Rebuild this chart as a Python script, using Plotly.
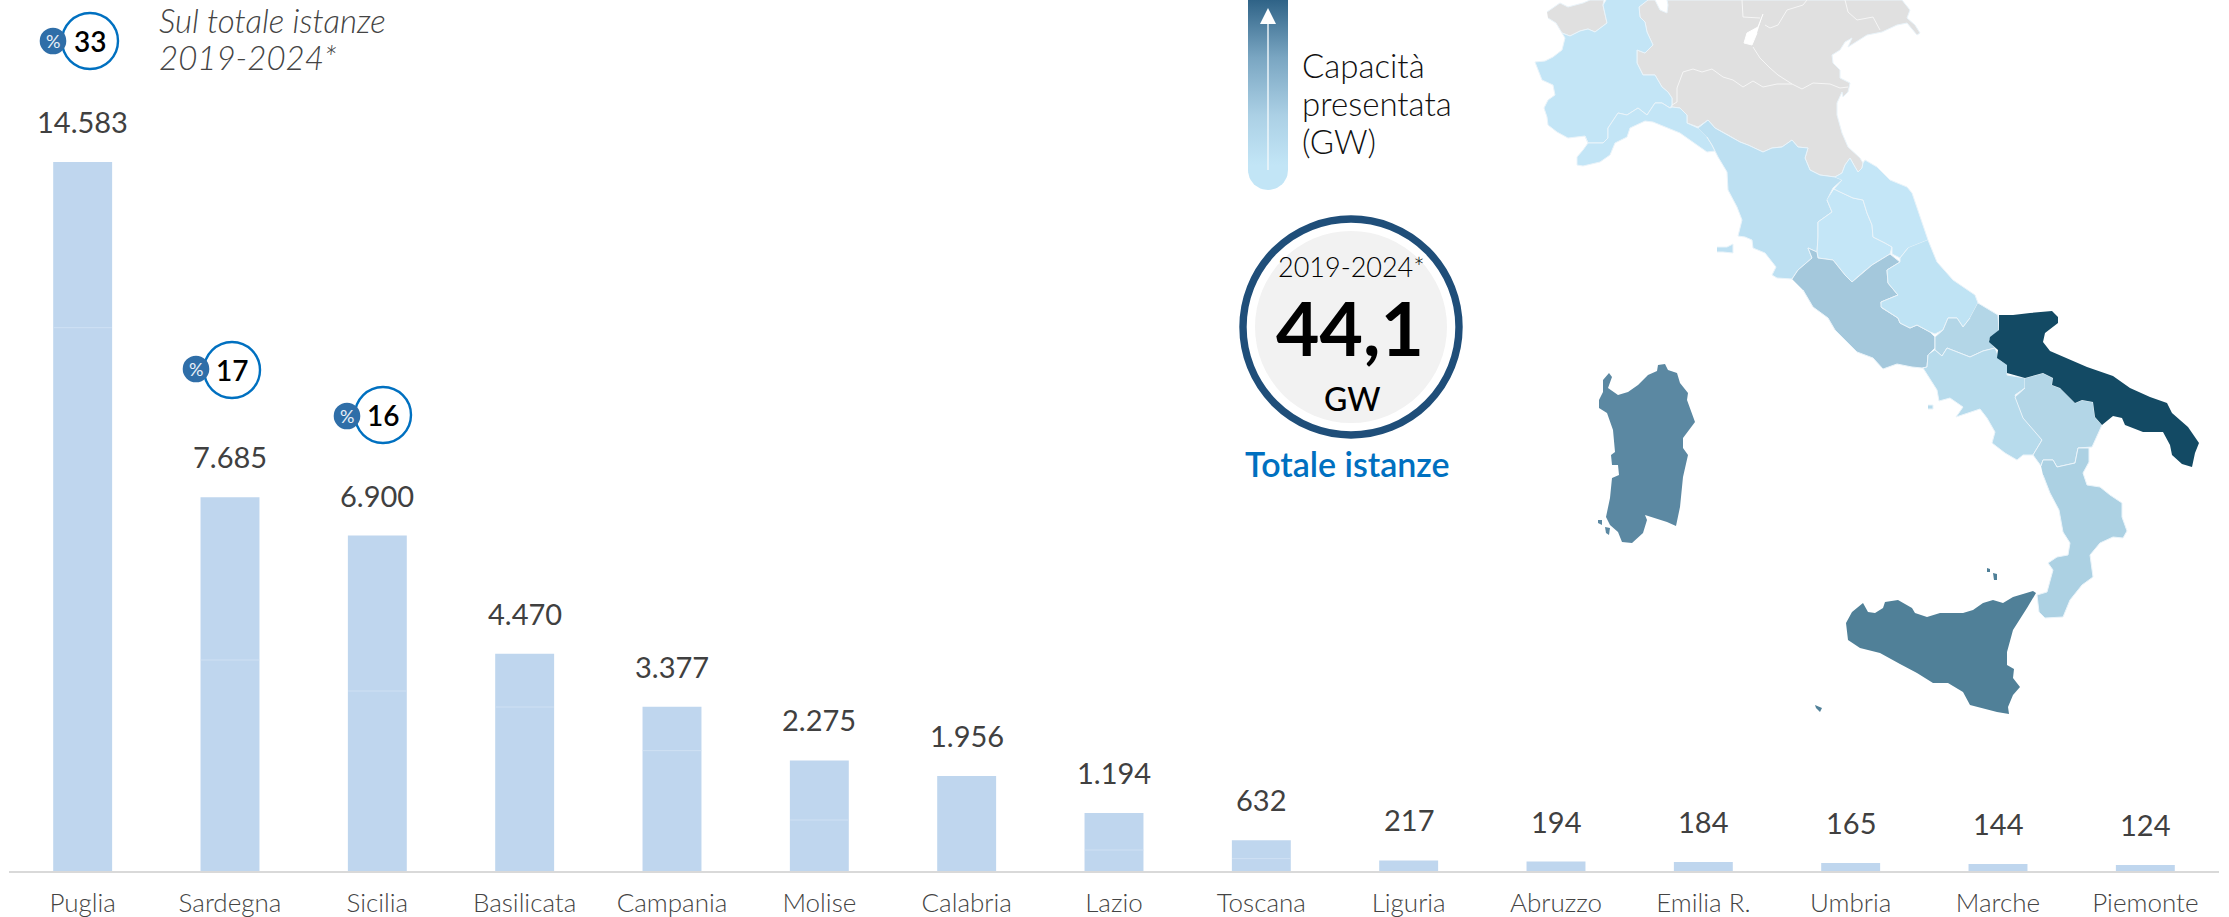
import math
import plotly.graph_objects as go

FONT = "Lato"
W, H = 2229, 917

# ---------- bar chart data ----------
regions = ["Puglia", "Sardegna", "Sicilia", "Basilicata", "Campania", "Molise", "Calabria", "Lazio",
           "Toscana", "Liguria", "Abruzzo", "Emilia R.", "Umbria", "Marche", "Piemonte"]
capacity_mw = [14583, 7685, 6900, 4470, 3377, 2275, 1956, 1194, 632, 217, 194, 184, 165, 144, 124]
seam_regions = ["Puglia", "Sardegna", "Sicilia", "Basilicata", "Campania", "Molise", "Lazio", "Toscana"]
seam_values = [11175, 4340, 3702, 3373, 2476, 1049, 432, 255]

share_labels = ["33", "17", "16"]
share_circle_x = [90, 232, 383]
share_circle_y = [41, 370, 415]
share_disc_x = [53, 196, 347]
share_disc_y = [41, 369, 416]

# ---------- map outlines (in map units) ----------
piemonte_x = [1606,1603,1607,1595,1588,1580,1570,1562,1565,1562,1553,1545,1535,1538,1542,1553,1555,1548,1544,1547,1548,1557,1568,1585,1588,1603,1608,1608,1618,1627,1638,1647,1655,1662,1670,1672,1672,1668,1662,1655,1643,1637,1637,1645,1653,1647,1645,1640,1639,1648]
piemonte_y = [0,5,23,32,29,31,36,33,38,50,57,61,62,70,80,85,95,100,108,117,125,132,138,136,143,143,138,128,113,115,108,115,103,103,108,105,98,92,87,75,75,63,50,53,45,32,22,17,7,0]
aosta_x = [1547,1560,1568,1583,1590,1604,1603,1607,1595,1588,1580,1570,1562,1556,1548]
aosta_y = [12,3,7,3,0,0,5,23,32,29,31,36,33,23,18]
liguria_x = [1585,1588,1583,1577,1577,1583,1600,1610,1615,1627,1630,1645,1653,1668,1680,1697,1707,1715,1712,1707,1698,1687,1687,1680,1672,1670,1662,1655,1647,1638,1627,1618,1608,1608,1603,1588]
liguria_y = [136,143,150,157,165,166,162,155,143,137,128,121,122,128,133,145,152,151,145,137,128,123,115,108,107,108,103,103,115,108,115,113,128,138,143,143]
north_x = [1648,1655,1660,1667,1668,1667,1902,1910,1907,1915,1920,1917,1907,1897,1882,1867,1848,1852,1845,1840,1832,1833,1840,1840,1850,1848,1843,1842,1837,1837,1842,1848,1860,1863,1862,1858,1855,1850,1845,1842,1835,1820,1810,1805,1808,1798,1792,1782,1772,1763,1748,1740,1728,1715,1708,1698,1687,1687,1680,1672,1672,1668,1662,1655,1643,1637,1637,1645,1653,1647,1645,1640,1639]
north_y = [0,0,10,13,5,0,0,10,18,25,33,35,23,25,32,35,47,38,42,50,55,63,70,78,83,92,97,92,103,115,133,147,158,163,168,172,167,158,165,173,177,175,170,158,148,147,140,147,148,152,145,142,135,128,120,127,123,115,108,107,98,92,87,75,75,63,50,53,45,32,22,17,7]
emilia_line_x = [1672,1677,1677,1683,1693,1702,1712,1723,1733,1743,1753,1763,1777,1792,1802,1813,1830,1840,1848]
emilia_line_y = [105,102,88,72,69,72,69,77,80,87,81,87,84,84,89,83,84,88,87]
veneto_line_x = [1753,1760,1770,1778,1792]
veneto_line_y = [47,58,68,75,84]
trentino_line_x = [1742,1743,1760,None,1765,1770,1778,1787,1803,1807]
trentino_line_y = [0,17,18,None,25,28,25,10,5,0]
friuli_line_x = [1845,1848,1857,1873,1880]
friuli_line_y = [0,12,20,17,30]
garda_x = [1763,1758,1747,1744,1752,1757]
garda_y = [14,27,33,43,45,33]
toscana_x = [1698,1708,1715,1728,1740,1748,1763,1772,1782,1792,1798,1808,1805,1810,1820,1835,1842,1833,1827,1832,1818,1818,1817,1808,1812,1798,1792,1777,1772,1776,1765,1753,1752,1745,1738,1742,1737,1728,1727,1718,1715,1712,1707]
toscana_y = [128,120,128,135,142,145,152,148,147,140,147,148,158,170,175,177,180,188,200,212,222,237,252,248,258,270,279,278,275,267,253,248,240,237,236,220,207,190,172,157,151,145,137]
elba_x = [1717,1727,1733,1733,1723,1717]
elba_y = [247,247,244,253,252,252]
umbria_x = [1834,1840,1853,1863,1867,1872,1873,1885,1892,1890,1872,1862,1852,1845,1833,1818,1817,1818,1818,1832,1827]
umbria_y = [189,192,198,200,213,225,237,243,247,254,265,273,282,275,260,258,252,237,222,212,200]
marche_x = [1835,1842,1845,1850,1855,1858,1862,1863,1865,1877,1890,1907,1912,1920,1928,1908,1900,1892,1892,1885,1873,1872,1867,1863,1853,1840,1834,1842]
marche_y = [177,173,165,158,167,172,168,163,160,167,180,187,193,217,240,248,258,254,247,243,237,225,213,200,198,192,189,180]
lazio_x = [1792,1798,1812,1808,1817,1818,1833,1845,1852,1862,1872,1890,1900,1887,1888,1898,1881,1882,1898,1900,1910,1917,1930,1935,1935,1928,1927,1922,1912,1897,1883,1873,1857,1835,1828,1813,1803]
lazio_y = [279,270,258,248,252,258,260,275,282,273,265,254,262,270,283,295,302,308,318,323,328,325,332,337,348,355,367,368,367,364,369,358,352,330,318,307,290]
abruzzo_x = [1928,1937,1953,1975,1978,1970,1963,1957,1948,1943,1935,1930,1917,1910,1900,1898,1881,1881,1898,1888,1887,1900,1900,1908]
abruzzo_y = [240,262,280,295,303,318,327,318,318,330,334,332,325,328,323,318,307,302,295,283,270,262,258,248]
molise_x = [1978,1998,1999,1989,1995,1983,1970,1947,1942,1935,1935,1943,1948,1957,1963,1970]
molise_y = [303,315,330,340,348,351,357,348,356,350,337,330,318,318,327,318]
campania_x = [1935,1942,1947,1970,1983,1995,2000,2008,2007,2025,2025,2015,2022,2040,2042,2033,2023,2017,2005,1992,1995,1987,1980,1968,1956,1963,1950,1939,1937,1923,1927,1928]
campania_y = [350,356,348,357,351,348,360,365,375,378,388,395,413,438,440,455,455,460,453,443,432,418,409,413,417,407,398,401,390,368,367,355]
ischia_x = [1928,1933,1933,1928]
ischia_y = [405,405,409,409]
puglia_x = [1999,2013,2030,2052,2058,2058,2045,2043,2050,2067,2087,2113,2130,2150,2167,2172,2188,2199,2195,2192,2182,2172,2170,2163,2143,2125,2122,2113,2102,2095,2093,2082,2075,2060,2052,2053,2043,2025,2007,2007,1997,1998,1989,1990,1999]
puglia_y = [315,315,313,311,317,323,333,342,351,358,367,376,388,397,403,413,427,443,453,467,464,455,445,432,432,425,418,416,425,417,402,400,403,388,385,378,373,378,373,365,358,350,342,337,330]
basilicata_x = [2025,2043,2053,2052,2060,2075,2082,2093,2095,2102,2092,2078,2075,2057,2053,2043,2041,2033,2042,2023,2015,2025]
basilicata_y = [378,373,378,385,388,403,400,402,417,425,447,448,463,467,460,460,466,455,440,418,397,388]
calabria_x = [2041,2043,2053,2057,2075,2078,2089,2089,2083,2087,2100,2110,2122,2122,2127,2123,2113,2100,2090,2093,2082,2070,2063,2045,2039,2037,2047,2053,2048,2057,2068,2070,2063,2059,2050,2043]
calabria_y = [466,460,460,467,463,448,448,462,473,485,487,495,503,517,531,538,537,543,555,577,585,600,617,618,612,595,592,570,563,557,555,543,532,510,493,475]
sardegna_x = [1658,1665,1668,1677,1680,1688,1687,1692,1695,1683,1683,1688,1683,1680,1676,1667,1655,1645,1647,1643,1632,1622,1618,1610,1606,1610,1612,1619,1618,1612,1611,1615,1613,1607,1599,1599,1603,1603,1609,1612,1608,1618,1628,1638,1648,1657]
sardegna_y = [365,364,370,373,383,393,400,415,422,438,448,455,477,507,526,522,518,515,520,533,543,542,532,525,517,498,478,475,465,465,455,452,430,413,408,400,392,380,373,377,388,395,392,385,375,371]
sant_antioco_x = [1605,1610,1609,1606]
sant_antioco_y = [527,528,535,533]
san_pietro_x = [1598,1602,1602,1598]
san_pietro_y = [520,520,525,523]
sicilia_x = [2033,2036,2027,2013,2007,2007,2014,2013,2020,2013,2008,2009,1997,1980,1970,1963,1948,1933,1917,1900,1880,1860,1848,1846,1852,1863,1868,1875,1883,1885,1898,1912,1915,1927,1940,1963,1973,1983,1993,2003,2013]
sicilia_y = [591,593,608,630,652,665,669,678,687,695,707,714,712,708,705,692,683,683,673,664,653,648,640,623,612,603,612,613,608,602,600,608,613,617,613,613,610,603,600,603,597]
pantelleria_x = [1815,1822,1820,1816]
pantelleria_y = [705,708,712,708]
lipari_x = [1993,1997,1997,1994]
lipari_y = [573,574,580,580]
salina_x = [1987,1990,1990,1987]
salina_y = [568,569,572,572]

map_fills = [
    (aosta_x, aosta_y, "#e0e0e0"), (north_x, north_y, "#e0e0e0"),
    (piemonte_x, piemonte_y, "#c3e5f6"), (liguria_x, liguria_y, "#c3e5f6"),
    (toscana_x, toscana_y, "#bde0f2"), (elba_x, elba_y, "#bde0f2"),
    (umbria_x, umbria_y, "#c4e6f7"), (marche_x, marche_y, "#c4e6f7"),
    (lazio_x, lazio_y, "#a4c8dc"), (abruzzo_x, abruzzo_y, "#bfe3f4"),
    (molise_x, molise_y, "#b3d6e7"), (campania_x, campania_y, "#b7dbec"),
    (ischia_x, ischia_y, "#b7dbec"), (basilicata_x, basilicata_y, "#b3d6e7"),
    (calabria_x, calabria_y, "#acd1e3"), (puglia_x, puglia_y, "#134a64"),
    (sardegna_x, sardegna_y, "#5b88a2"), (sant_antioco_x, sant_antioco_y, "#5b88a2"),
    (san_pietro_x, san_pietro_y, "#5b88a2"), (sicilia_x, sicilia_y, "#508098"),
    (pantelleria_x, pantelleria_y, "#508098"), (lipari_x, lipari_y, "#508098"),
    (salina_x, salina_y, "#508098"),
]
map_lines = [(emilia_line_x, emilia_line_y), (veneto_line_x, veneto_line_y),
             (trentino_line_x, trentino_line_y), (friuli_line_x, friuli_line_y)]

fig = go.Figure()

# bars
fig.add_trace(go.Bar(x=regions, y=capacity_mw, width=0.4, marker=dict(color="#bfd6ee", line_width=0),
                     showlegend=False, hoverinfo="x+y"))
fig.add_trace(go.Scatter(x=seam_regions, y=seam_values, mode="markers", showlegend=False, hoverinfo="skip",
                         marker=dict(symbol="line-ew", size=41.7, line=dict(color="#cfe0f3", width=1))))

# map
for xs, ys, col in map_fills:
    edge = "rgba(255,255,255,0)" if col in ("#134a64", "#5b88a2", "#508098") else "#eaf4fa"
    fig.add_trace(go.Scatter(x=xs, y=ys, xaxis="x2", yaxis="y2", mode="lines", fill="toself", fillcolor=col,
                             line=dict(color=edge, width=1), showlegend=False, hoverinfo="skip"))
for xs, ys in map_lines:
    fig.add_trace(go.Scatter(x=xs, y=ys, xaxis="x2", yaxis="y2", mode="lines",
                             line=dict(color="#f6f6f6", width=1), showlegend=False, hoverinfo="skip"))
fig.add_trace(go.Scatter(x=garda_x, y=garda_y, xaxis="x2", yaxis="y2", mode="lines", fill="toself", fillcolor="white",
                         line=dict(color="white", width=1), showlegend=False, hoverinfo="skip"))

# legend ramp with rounded bottom
ramp_left, ramp_right, ramp_end = 1248, 1288, 190
ramp_r = (ramp_right - ramp_left) / 2
ramp_x = [ramp_left, ramp_right] + [ramp_left + ramp_r + ramp_r * math.cos(math.pi * i / 24) for i in range(25)]
ramp_y = [0, 0] + [ramp_end - ramp_r + ramp_r * math.sin(math.pi * i / 24) for i in range(25)]
fig.add_trace(go.Scatter(x=ramp_x, y=ramp_y, xaxis="x2", yaxis="y2", mode="lines", line=dict(width=0),
                         fill="toself", showlegend=False, hoverinfo="skip",
                         fillgradient=dict(type="vertical", start=0, stop=165,
                                           colorscale=[[0, "#2f6387"], [0.35, "#7aa6c2"], [0.7, "#abd0e5"], [1, "#c2e5f6"]])))
fig.add_trace(go.Scatter(x=[1268, 1268], y=[170, 22], xaxis="x2", yaxis="y2", mode="lines",
                         line=dict(color="#f2f8fb", width=1.4), showlegend=False, hoverinfo="skip"))
fig.add_trace(go.Scatter(x=[1260, 1268, 1276, 1260], y=[24, 8, 24, 24], xaxis="x2", yaxis="y2", mode="lines",
                         fill="toself", fillcolor="white", line=dict(width=0), showlegend=False, hoverinfo="skip"))

shapes = []
def circle(cx, cy, r, fill, line_color=None, line_w=0):
    shapes.append(dict(type="circle", xref="x2", yref="y2", x0=cx - r, x1=cx + r, y0=cy - r, y1=cy + r,
                       fillcolor=fill, line=dict(color=line_color or fill, width=line_w), layer="above"))

anns = []
def text(x, y, s, size, color="#000", weight=400, style="normal", xanchor="center"):
    anns.append(dict(x=x, y=y, xref="x2", yref="y2", text=s, showarrow=False, xanchor=xanchor, yanchor="middle",
                     font=dict(family=FONT, size=size, color=color, weight=weight, style=style)))

# share badges
for lab, cx, cy, dx, dy in zip(share_labels, share_circle_x, share_circle_y, share_disc_x, share_disc_y):
    circle(cx, cy, 28, "white", "#0070c0", 2.4)
    circle(dx, dy, 13.3, "#2f6ea8")
    text(cx, cy, lab, 28, "#000", 600)
    text(dx, dy, "%", 18, "#e8f0f8", 400)

text(157, 20, "Sul totale istanze", 33, "#444444", 300, "italic", "left")
text(157, 57, "2019-2024*", 33, "#444444", 300, "italic", "left")

text(1300, 65, "Capacità", 33, "#111111", 300, xanchor="left")
text(1300, 103, "presentata", 33, "#111111", 300, xanchor="left")
text(1300, 141, "(GW)", 33, "#111111", 300, xanchor="left")

# total circle
circle(1351, 327, 108, "white", "#1f4e79", 7.4)
circle(1351, 327, 96, "#f2f2f2")
text(1351, 266, "2019-2024*", 27, "#000000", 300)
text(1350, 327, "44,1", 75, "#000", 700)
text(1352, 398, "GW", 32, "#000", 500)
text(1347, 463, "Totale istanze", 34, "#0070c0", 600)

# value labels over the bars
for r, v in zip(regions, capacity_mw):
    anns.append(dict(x=r, y=v, xref="x", yref="y", text=f"{v:,}".replace(",", "."), showarrow=False,
                     xanchor="center", yanchor="middle", yshift=40.5,
                     font=dict(family=FONT, size=29, color="#404040")))

fig.update_layout(
    width=W, height=H, margin=dict(l=0, r=0, t=0, b=0, autoexpand=False), autosize=False,
    paper_bgcolor="white", plot_bgcolor="rgba(0,0,0,0)", bargap=0.6,
    font=dict(family=FONT), shapes=shapes, annotations=anns, hovermode="closest",
    xaxis=dict(domain=[9 / W, 2219 / W], type="category", categoryorder="array", categoryarray=regions,
               range=[-0.5, 14.5], showgrid=False, zeroline=False, showline=True, linecolor="#d9d9d9", linewidth=2,
               ticks="outside", ticklen=8, tickcolor="rgba(0,0,0,0)", automargin=False,
               tickfont=dict(family=FONT, size=26, color="#444444", weight=300)),
    yaxis=dict(domain=[(H - 871) / H, 1], range=[0, 871 / 0.04862], visible=False, showgrid=False, zeroline=False),
    xaxis2=dict(domain=[0, 1], range=[0, W], visible=False, anchor="y2"),
    yaxis2=dict(domain=[0, 1], range=[H, 0], visible=False, anchor="x2"),
)

fig.write_html("out.html", config=dict(displayModeBar=False),
               post_script="document.body.style.margin='0';document.body.style.overflow='hidden';window.dispatchEvent(new Event('resize'));")
